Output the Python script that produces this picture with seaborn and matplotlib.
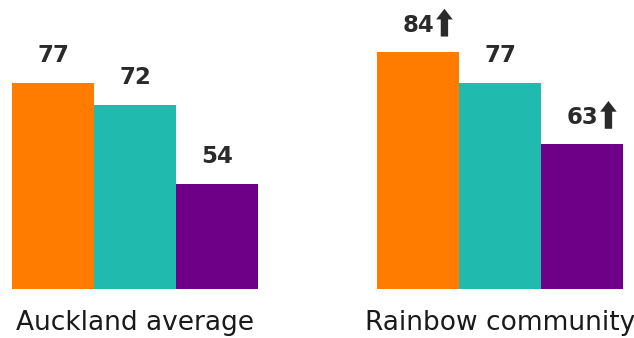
import matplotlib
matplotlib.use("Agg")
import matplotlib.pyplot as plt
from matplotlib.transforms import offset_copy
import seaborn as sns
import pandas as pd

# data
groups = ["Auckland average", "Rainbow community"]
measures = ["Measure 1", "Measure 2", "Measure 3"]
auckland = [77, 72, 54]
rainbow = [84, 77, 63]
rainbow_up = [True, False, True]   # arrows shown next to these values
colors = ["#FF7C00", "#20BBAE", "#6E0088"]

rows = []
for m, v in zip(measures, auckland):
    rows.append({"group": groups[0], "measure": m, "value": v, "up": False})
for m, v, u in zip(measures, rainbow, rainbow_up):
    rows.append({"group": groups[1], "measure": m, "value": v, "up": u})
df = pd.DataFrame(rows)

sns.set_style("white")
plt.rcParams['font.family'] = ['DejaVu Sans']

fig = plt.figure(figsize=(6.34, 3.38), dpi=100)
ax = fig.add_axes([0, 0.145, 1, 0.855])

sns.barplot(data=df, x="group", y="value", hue="measure", order=groups,
            hue_order=measures, palette=colors, width=0.674, gap=0,
            saturation=1, linewidth=0, legend=False, ax=ax)

ax.set_xlim(-0.37, 1.367)
ax.set_ylim(30, 95.8)
sns.despine(ax=ax, left=True, bottom=True)
ax.set_yticks([])
ax.set_xlabel("")
ax.set_ylabel("")
ax.tick_params(axis="x", length=0, pad=15, labelsize=19, labelcolor="#1a1a1a")

# arrow ends, offset from the bar top (points)
arrow_base = offset_copy(ax.transData, fig=fig, x=19, y=11, units="points")
arrow_tip = offset_copy(ax.transData, fig=fig, x=19, y=31, units="points")

# value labels (and up arrows) above bars
for ci, cont in enumerate(ax.containers):
    for gi, bar in enumerate(cont.patches):
        val = bar.get_height()
        xc = bar.get_x() + bar.get_width() / 2
        up = df[(df["group"] == groups[gi]) & (df["measure"] == measures[ci])]["up"].iloc[0]
        ax.annotate(f"{val:.0f}", (xc, val), xytext=(0, 11), textcoords="offset points",
                    ha="center", va="bottom", fontsize=16.5, fontweight="bold",
                    color="#2a2a2a")
        if up:
            ax.annotate("", xy=(xc, val), xycoords=arrow_tip,
                        xytext=(xc, val), textcoords=arrow_base,
                        arrowprops=dict(arrowstyle="simple,head_length=0.55,head_width=0.85,tail_width=0.38",
                                        mutation_scale=14, color="#2a2a2a",
                                        shrinkA=0, shrinkB=0, lw=0))

fig.savefig("out.png", dpi=100)
